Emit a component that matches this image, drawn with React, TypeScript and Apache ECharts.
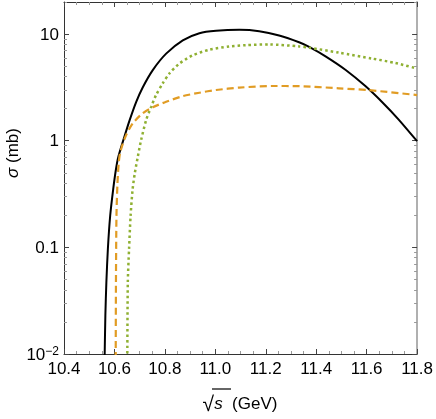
import React, { useEffect, useRef } from "react";
import * as echarts from "echarts";

// sqrt(s) in GeV, sigma in mb
const blackX = [10.561, 10.564, 10.568, 10.574, 10.583, 10.595, 10.606, 10.616, 10.640, 10.660, 10.686, 10.712, 10.752, 10.805, 10.871, 10.937, 11.003, 11.095, 11.174, 11.253, 11.332, 11.372, 11.437, 11.517, 11.596, 11.661, 11.727, 11.8];
const blackY = [0.009, 0.023, 0.047, 0.097, 0.197, 0.35, 0.54, 0.714, 1.10, 1.55, 2.30, 3.16, 4.60, 6.56, 8.75, 10.2, 10.74, 10.96, 10.64, 9.70, 8.39, 7.59, 6.19, 4.61, 3.24, 2.31, 1.58, 0.99];

const orangeX = [10.605, 10.606, 10.608, 10.612, 10.617, 10.622, 10.632, 10.647, 10.673, 10.712, 10.752, 10.805, 10.871, 10.937, 11.003, 11.095, 11.226, 11.332, 11.490, 11.609, 11.8];
const orangeY = [0.009, 0.047, 0.197, 0.40, 0.62, 0.76, 0.92, 1.14, 1.46, 1.81, 2.06, 2.32, 2.62, 2.82, 2.99, 3.15, 3.26, 3.25, 3.10, 2.98, 2.68];

const greenX = [10.651, 10.653, 10.658, 10.664, 10.672, 10.681, 10.693, 10.706, 10.726, 10.746, 10.765, 10.791, 10.818, 10.857, 10.910, 10.976, 11.055, 11.121, 11.214, 11.332, 11.372, 11.490, 11.622, 11.714, 11.8];
const greenY = [0.009, 0.047, 0.097, 0.197, 0.35, 0.50, 0.714, 1.02, 1.57, 2.09, 2.68, 3.44, 4.27, 5.28, 6.32, 7.13, 7.66, 7.88, 8.0, 7.67, 7.46, 6.70, 5.89, 5.36, 4.75];

const yMajorTicks = [0.01, 0.1, 1, 10];
const yMinorTicks = [0.02, 0.03, 0.04, 0.05, 0.06, 0.07, 0.08, 0.09, 0.2, 0.3, 0.4, 0.5, 0.6, 0.7, 0.8, 0.9, 2, 3, 4, 5, 6, 7, 8, 9, 20];

const FONT = "'Liberation Sans', Arial, sans-serif";
const AXIS_COLOR = "#333";
const MAJOR_TICK = "#444";
const MINOR_TICK = "#999";
const RIGHT_AXIS = "#b0b0b0";

function zip(xs: number[], ys: number[]) {
  return xs.map((x, i) => [x, ys[i]]);
}

export default function App() {
  const ref = useRef<HTMLDivElement>(null);
  useEffect(() => {
    if (!ref.current) return;
    const chart = echarts.init(ref.current, undefined, { renderer: "svg" });
    const grid = { left: 64, right: 18, top: 2, bottom: 65 };
    const yBase = (position: string, ticks: number[], len: number, tickColor: string, labels: boolean, line: boolean, lineColor: string, lineWidth: number) => ({
      type: "log",
      logBase: 10,
      min: 0.01,
      max: 20,
      position,
      axisLine: line ? { show: true, lineStyle: { color: lineColor, width: lineWidth } } : { show: false },
      splitLine: { show: false },
      axisTick: { show: true, inside: true, length: len, customValues: ticks, lineStyle: { color: tickColor, width: 1 } },
      axisLabel: labels
        ? {
            show: true,
            customValues: yMajorTicks,
            margin: 5,
            fontFamily: FONT,
            fontSize: 17,
            color: "#000",
            formatter: (v: number) => {
              if (Math.abs(v - 0.01) < 1e-9) return "{b|10}{s|−2}";
              if (Math.abs(v - 0.1) < 1e-9) return "{b|0.1}";
              return "{b|" + String(Math.round(v)) + "}";
            },
            rich: {
              b: { fontFamily: FONT, fontSize: 17, color: "#000", lineHeight: 18 },
              s: { fontFamily: FONT, fontSize: 12, color: "#000", verticalAlign: "top", lineHeight: 18, padding: [0, 0, 6, 0] },
            },
          }
        : { show: false },
    });
    const xBase = (position: string, labels: boolean) => ({
      type: "value",
      min: 10.4,
      max: 11.8,
      interval: 0.2,
      position,
      axisLine: { show: true, lineStyle: { color: AXIS_COLOR, width: 1 } },
      splitLine: { show: false },
      axisTick: { show: true, inside: true, length: 5, lineStyle: { color: MAJOR_TICK } },
      minorTick: { show: true, splitNumber: 4, length: 3, lineStyle: { color: MINOR_TICK } },
      axisLabel: labels
        ? { show: true, margin: 6, fontFamily: FONT, fontSize: 17, color: "#000", formatter: (v: number) => v.toFixed(1) }
        : { show: false },
    });
    const common = { type: "line", showSymbol: false, smooth: 0.25, clip: true };
    chart.setOption({
      animation: false,
      grid,
      xAxis: [xBase("bottom", true), xBase("top", false)],
      yAxis: [
        yBase("left", yMajorTicks, 5, MAJOR_TICK, true, true, AXIS_COLOR, 1),
        yBase("left", yMinorTicks, 3, MINOR_TICK, false, false, AXIS_COLOR, 1),
        yBase("right", yMajorTicks, 5, MAJOR_TICK, false, true, RIGHT_AXIS, 2),
        yBase("right", yMinorTicks, 3, MINOR_TICK, false, false, RIGHT_AXIS, 2),
      ],
      series: [
        { ...common, data: zip(blackX, blackY), lineStyle: { color: "#000", width: 2 } },
        { ...common, data: zip(orangeX, orangeY), lineStyle: { color: "#E19C24", width: 2.2, type: [7, 4] } },
        { ...common, data: zip(greenX, greenY), lineStyle: { color: "#8FB032", width: 2.5, type: [2.5, 3] } },
      ],
      graphic: [
        {
          type: "text",
          x: 12,
          y: 153,
          rotation: Math.PI / 2,
          style: {
            text: "{i|σ}{n| (mb)}",
            align: "center",
            verticalAlign: "middle",
            rich: {
              i: { fontFamily: FONT, fontSize: 17, fontStyle: "italic", fill: "#000" },
              n: { fontFamily: FONT, fontSize: 17, fill: "#000" },
            },
          },
        },
        {
          type: "text",
          x: 240,
          y: 403,
          style: {
            text: "{r|√}{i|s}{n|  (GeV)}",
            align: "center",
            verticalAlign: "middle",
            rich: {
              r: { fontFamily: FONT, fontSize: 21, fill: "#000" },
              i: { fontFamily: FONT, fontSize: 17, fontStyle: "italic", fill: "#000" },
              n: { fontFamily: FONT, fontSize: 17, fill: "#000" },
            },
          },
        },
        {
          type: "line",
          shape: { x1: 212, y1: 389, x2: 231, y2: 389 },
          style: { stroke: "#000", lineWidth: 1.2 },
        },
      ],
    });
    return () => chart.dispose();
  }, []);
  return <div ref={ref} style={{ position: "fixed", left: 0, top: 0, width: 436, height: 419 }} />;
}
